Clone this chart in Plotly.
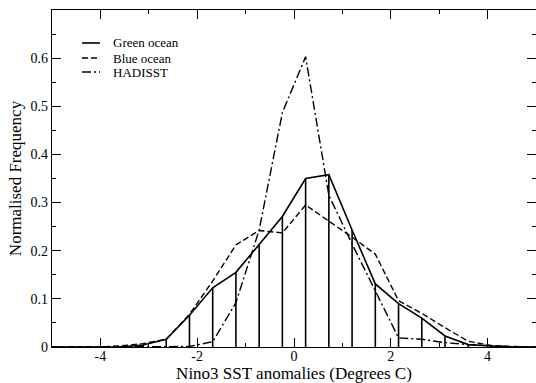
import plotly.graph_objects as go

# Bin centres (Degrees C)
bin_centres = [-5.04, -4.56, -4.08, -3.6, -3.12, -2.64, -2.16, -1.68, -1.2, -0.72, -0.24,
               0.24, 0.72, 1.2, 1.68, 2.16, 2.64, 3.12, 3.6, 4.08, 4.56, 5.04]

green_ocean = [0, 0, 0, 0, 0.004, 0.016, 0.066, 0.123, 0.155, 0.212, 0.271,
               0.350, 0.358, 0.243, 0.131, 0.090, 0.060, 0.023, 0.005, 0.002, 0, 0]
blue_ocean = [0, 0, 0, 0.002, 0.007, 0.016, 0.068, 0.137, 0.212, 0.242, 0.237,
              0.295, 0.262, 0.228, 0.193, 0.096, 0.070, 0.040, 0.012, 0.003, 0.001, 0]
hadisst = [0, 0, 0, 0, 0, 0, 0.001, 0.011, 0.092, 0.243, 0.487,
           0.603, 0.315, 0.214, 0.117, 0.019, 0.016, 0.009, 0.005, 0.002, 0, 0]

series_names = ["Green ocean", "Blue ocean", "HADISST"]

x_tick_vals = [-4, -2, 0, 2, 4]
x_tick_text = ["-4", "-2", "0", "2", "4"]
y_tick_vals = [0, 0.1, 0.2, 0.3, 0.4, 0.5, 0.6]
y_tick_text = ["0", "0.1", "0.2", "0.3", "0.4", "0.5", "0.6"]

FONT = "Liberation Serif"
styles = [
    dict(color="black", width=1.6),
    dict(color="black", width=1.4, dash="6px,3px"),
    dict(color="black", width=1.4, dash="9px,3px,2px,3px"),
]

fig = go.Figure()

fig.add_trace(go.Scatter(
    x=bin_centres, y=green_ocean, mode="lines", name=series_names[0],
    line=styles[0], showlegend=False,
    error_y=dict(type="data", symmetric=False, array=[0] * len(green_ocean),
                 arrayminus=green_ocean, width=0, thickness=1.6, color="black"),
))
fig.add_trace(go.Scatter(
    x=bin_centres, y=blue_ocean, mode="lines", name=series_names[1],
    line=styles[1], showlegend=False,
))
fig.add_trace(go.Scatter(
    x=bin_centres, y=hadisst, mode="lines", name=series_names[2],
    line=styles[2], showlegend=False,
))

axis_common = dict(
    showline=True, linecolor="black", linewidth=1.2, mirror="ticks",
    ticks="inside", ticklen=9, tickwidth=1.2, tickcolor="black",
    showgrid=False, zeroline=False,
    tickfont=dict(family=FONT, size=14, color="black"),
)

fig.update_xaxes(
    range=[-5, 5], tickmode="array", tickvals=x_tick_vals, ticktext=x_tick_text,
    minor=dict(ticks="inside", ticklen=4, tickwidth=1, tickcolor="black", dtick=1, tick0=1),
    ticklabelstandoff=-4,
    title=dict(text="Nino3 SST anomalies (Degrees C)", font=dict(family=FONT, size=17, color="black"),
               standoff=0),
    **axis_common,
)
fig.update_yaxes(
    range=[0, 0.7], tickmode="array", tickvals=y_tick_vals, ticktext=y_tick_text,
    minor=dict(ticks="inside", ticklen=4, tickwidth=1, tickcolor="black", dtick=0.05, tick0=0.05),
    title=dict(text="Normalised Frequency", font=dict(family=FONT, size=17, color="black"),
               standoff=4),
    **axis_common,
)

# Hand-drawn legend (paper coordinates)
plot_left, plot_w, plot_top, plot_h = 52, 484, 10, 337
def px(xp):
    return (xp - plot_left) / plot_w
def py(yp):
    return 1 - (yp - plot_top) / plot_h

legend_rows = [43, 58, 72]
for name, st, yr in zip(series_names, styles, legend_rows):
    fig.add_shape(type="line", xref="paper", yref="paper",
                  x0=px(82), x1=px(100), y0=py(yr), y1=py(yr),
                  line=dict(color="black", width=st["width"], dash=st.get("dash", "solid")))
    fig.add_annotation(xref="paper", yref="paper", x=px(111), y=py(yr),
                       xanchor="left", yanchor="middle", text=name, showarrow=False,
                       font=dict(family=FONT, size=13, color="black"))

fig.update_layout(
    width=536, height=383,
    margin=dict(l=52, r=0, t=10, b=36),
    paper_bgcolor="white", plot_bgcolor="white",
    showlegend=False,
    font=dict(family=FONT, color="black"),
)

fig.write_html("out.html")
